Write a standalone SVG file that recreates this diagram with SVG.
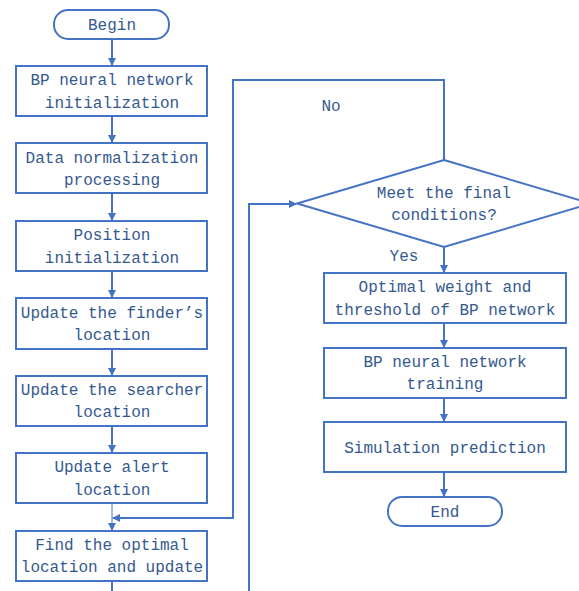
<svg xmlns="http://www.w3.org/2000/svg" width="579" height="591" viewBox="0 0 579 591">
<defs>
<marker id="ah" markerWidth="8" markerHeight="8" refX="7" refY="4" orient="auto" markerUnits="userSpaceOnUse">
<path d="M0,0 L8,4 L0,8 Z" fill="#4472C4"/>
</marker>
</defs>
<style>
.box{fill:#fff;stroke:#4472C4;stroke-width:2}
.t{font-family:"Liberation Mono","DejaVu Sans Mono",monospace;font-size:16px;fill:#35598f;text-anchor:middle}
.c{fill:none;stroke:#4472C4;stroke-width:2}
.thin{fill:none;stroke:#4472C4;stroke-width:1}
</style>
<rect width="579" height="591" fill="#fff"/>
<g id="connectors">
<line class="c" x1="112" y1="39" x2="112" y2="65" marker-end="url(#ah)"/>
<line class="c" x1="112" y1="116" x2="112" y2="142" marker-end="url(#ah)"/>
<line class="c" x1="112" y1="193" x2="112" y2="220" marker-end="url(#ah)"/>
<line class="c" x1="112" y1="271" x2="112" y2="297" marker-end="url(#ah)"/>
<line class="c" x1="112" y1="349" x2="112" y2="375" marker-end="url(#ah)"/>
<line class="c" x1="112" y1="426" x2="112" y2="452" marker-end="url(#ah)"/>
<line class="thin" x1="112" y1="503" x2="112" y2="530" marker-end="url(#ah)"/>
<line class="c" x1="112" y1="581" x2="112" y2="591"/>
<polyline class="c" points="444,160 444,80 233,80 233,518 113,518" marker-end="url(#ah)"/>
<polyline class="c" points="249,591 249,204 296,204" marker-end="url(#ah)"/>
<line class="c" x1="444" y1="247" x2="444" y2="272" marker-end="url(#ah)"/>
<line class="c" x1="444" y1="323" x2="444" y2="347" marker-end="url(#ah)"/>
<line class="c" x1="444" y1="398" x2="444" y2="421" marker-end="url(#ah)"/>
<line class="c" x1="444" y1="472" x2="444" y2="496" marker-end="url(#ah)"/>
<text class="t" x="331" y="111">No</text>
<text class="t" x="404" y="261">Yes</text>
</g>
<g id="begin"><rect class="box" x="54" y="10" width="115" height="29" rx="14"/><text class="t" x="112" y="30">Begin</text></g>
<g id="n1"><rect class="box" x="16" y="66" width="191" height="50"/><text class="t" x="112" y="85">BP neural network</text><text class="t" x="112" y="108">initialization</text></g>
<g id="n2"><rect class="box" x="16" y="143" width="191" height="50"/><text class="t" x="112" y="163">Data normalization</text><text class="t" x="112" y="185">processing</text></g>
<g id="n3"><rect class="box" x="16" y="221" width="191" height="50"/><text class="t" x="112" y="240">Position</text><text class="t" x="112" y="263">initialization</text></g>
<g id="n4"><rect class="box" x="16" y="298" width="191" height="51"/><text class="t" x="112" y="318">Update the finder’s</text><text class="t" x="112" y="340">location</text></g>
<g id="n5"><rect class="box" x="16" y="376" width="191" height="50"/><text class="t" x="112" y="395">Update the searcher</text><text class="t" x="112" y="417">location</text></g>
<g id="n6"><rect class="box" x="16" y="453" width="191" height="50"/><text class="t" x="112" y="472">Update alert</text><text class="t" x="112" y="495">location</text></g>
<g id="n7"><rect class="box" x="16" y="531" width="191" height="50"/><text class="t" x="112" y="550">Find the optimal</text><text class="t" x="112" y="572">location and update</text></g>
<g id="decision"><polygon class="box" points="444,160 591,203.5 444,247 297,203.5"/><text class="t" x="444" y="198">Meet the final</text><text class="t" x="444" y="220">conditions?</text></g>
<g id="r1"><rect class="box" x="324" y="273" width="242" height="50"/><text class="t" x="445" y="292">Optimal weight and</text><text class="t" x="445" y="315">threshold of BP network</text></g>
<g id="r2"><rect class="box" x="324" y="348" width="242" height="50"/><text class="t" x="445" y="367">BP neural network</text><text class="t" x="445" y="389">training</text></g>
<g id="r3"><rect class="box" x="324" y="422" width="242" height="50"/><text class="t" x="445" y="453">Simulation prediction</text></g>
<g id="end"><rect class="box" x="388" y="497" width="114" height="29" rx="14"/><text class="t" x="445" y="517">End</text></g>
</svg>
